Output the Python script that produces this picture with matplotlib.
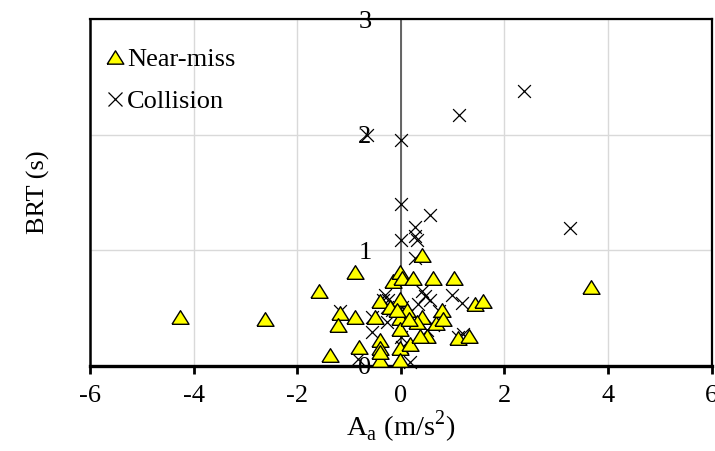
import matplotlib
matplotlib.use("Agg")
import matplotlib.pyplot as plt
from matplotlib.lines import Line2D

plt.rcParams['font.family'] = ['Liberation Serif', 'DejaVu Serif']
plt.rcParams['mathtext.fontset'] = 'custom'
plt.rcParams['mathtext.rm'] = 'Liberation Serif'

near_x = [-4.26, -2.62, -1.58, -0.88, -1.17, -1.22, -0.88, -1.36, -0.80, -0.50,
          -0.40, -0.40, -0.40, -0.40, -0.14, -0.01, 0.02, -0.01, 0.12, -0.01,
          -0.01, -0.01, -0.01, -0.21, 0.24, 0.18, 0.41, 0.63, 1.03, 0.41,
          0.31, 0.50, 0.37, 0.69, 0.79, 0.82, 1.43, 1.58, 1.11, 1.31,
          -0.08, 3.67, 0.15, -0.40]
near_y = [0.42, 0.40, 0.65, 0.81, 0.46, 0.35, 0.42, 0.09, 0.16, 0.42,
          0.56, 0.22, 0.15, 0.05, 0.73, 0.81, 0.76, 0.58, 0.48, 0.41,
          0.32, 0.15, 0.05, 0.51, 0.76, 0.19, 0.96, 0.76, 0.76, 0.42,
          0.38, 0.26, 0.26, 0.37, 0.48, 0.40, 0.53, 0.56, 0.24, 0.26,
          0.48, 0.68, 0.40, 0.12]

coll_x = [2.38, 1.12, -0.65, 0.00, 0.00, 0.57, 0.00, 0.28, 0.28, 0.31,
          3.27, 0.28, 0.41, 0.47, 0.57, 0.34, 0.98, 1.18, 0.73, 0.63,
          0.50, -0.30, -0.24, -0.34, -0.27, -0.17, -1.17, -0.56, -0.27, -0.56,
          0.00, 0.02, -0.82, 0.18, 1.11, 1.21, 0.02, 0.12]
coll_y = [2.38, 2.17, 2.00, 1.95, 1.40, 1.30, 1.09, 1.20, 1.12, 1.09,
          1.19, 0.93, 0.65, 0.60, 0.57, 0.53, 0.61, 0.54, 0.47, 0.35,
          0.31, 0.61, 0.57, 0.57, 0.51, 0.48, 0.47, 0.42, 0.38, 0.29,
          0.25, 0.16, 0.06, 0.03, 0.25, 0.27, 0.51, 0.44]

x_ticks = [-6, -4, -2, 0, 2, 4, 6]
y_ticks = [0, 1, 2, 3]

FS = 19
tri = [(-1, -0.8), (1, -0.8), (0, 0.8), (-1, -0.8)]

fig = plt.figure(figsize=(7.15, 4.51), dpi=100)
ax = fig.add_axes([90/715, 1-365.7/451, (711.5-90)/715, (365.7-19)/451])

ax.scatter(coll_x, coll_y, marker='x', s=85, c='black', linewidths=0.9,
           zorder=3, label='Collision', clip_on=False)
ax.scatter(near_x, near_y, marker=tri, s=150, facecolor='#ffff00',
           edgecolor='black', linewidths=1.0, zorder=4, label='Near-miss',
           clip_on=False)

ax.set_xlim(-6, 6)
ax.set_ylim(0, 3)
ax.set_xticks(x_ticks)
ax.set_yticks(y_ticks)
ax.set_xticklabels([str(v) for v in x_ticks])
ax.set_yticklabels([str(v) for v in y_ticks])
ax.grid(True, color='#d9d9d9', linewidth=1.0, zorder=0)
ax.set_axisbelow(True)

ax.spines['left'].set_position(('data', 0))
ax.spines['left'].set_color('#595959')
ax.spines['left'].set_linewidth(1.3)
ax.spines['left'].set_zorder(2)
ax.spines['bottom'].set_linewidth(2.4)
ax.spines['top'].set_linewidth(1.6)
ax.spines['right'].set_linewidth(1.6)
ax.axvline(-6, color='black', linewidth=1.8, zorder=5, clip_on=False)

ax.tick_params(axis='y', length=0, pad=21, labelsize=FS)
ax.tick_params(axis='x', direction='out', length=6, width=2, pad=8, labelsize=FS)

ax.set_xlabel('A$_\\mathregular{a}$ (m/s$^\\mathregular{2}$)', fontsize=20.5)
ax.set_ylabel('BRT (s)', fontsize=FS)
ax.yaxis.set_label_coords(-0.064, 0.5)
ax.xaxis.set_label_coords(0.5, -0.125)

h_near = Line2D([], [], linestyle='none', marker=tri, markersize=12,
                markerfacecolor='#ffff00', markeredgecolor='black', markeredgewidth=1.0)
h_coll = Line2D([], [], linestyle='none', marker='x', markersize=9.5,
                color='black', markeredgewidth=0.9)
ax.legend([h_near, h_coll], ['Near-miss', 'Collision'], loc='upper left',
          bbox_to_anchor=(0.0, 0.962), frameon=False, fontsize=FS,
          handlelength=0.7, handletextpad=0.1, labelspacing=0.68,
          borderpad=0.3, borderaxespad=0.3)

fig.savefig('out.png', dpi=100)
